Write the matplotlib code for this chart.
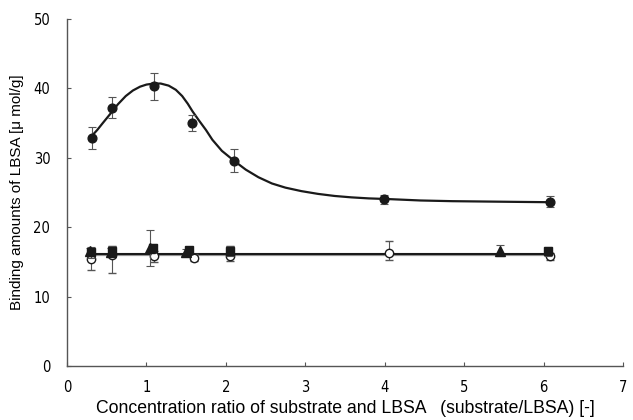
"""
Binding amounts of LBSA vs concentration ratio (substrate/LBSA).
"""

from matplotlib import pyplot as plt
import matplotlib as mpl

mpl.rcParams['font.family'] = ['Liberation Sans', 'DejaVu Sans']

# upper series (filled circles)
x_top = [0.31, 0.57, 1.10, 1.57, 2.10, 3.99, 6.08]
y_top = [32.8, 37.2, 40.3, 35.0, 29.6, 24.0, 23.7]
e_top = [1.6, 1.5, 1.9, 1.2, 1.6, 0.7, 0.8]

# fitted curve through upper series
x_fit = [0.30, 0.38, 0.45, 0.55, 0.64, 0.74, 0.83, 0.92, 1.00, 1.09, 1.18, 1.28,
         1.37, 1.45, 1.52, 1.58, 1.66, 1.75, 1.83, 1.95, 2.10, 2.25, 2.41, 2.58,
         2.75, 2.95, 3.16, 3.37, 3.58, 3.80, 4.05, 4.45, 4.85, 5.25, 5.65, 6.08]
y_fit = [33.0, 34.0, 35.0, 36.4, 37.7, 38.9, 39.7, 40.25, 40.55, 40.7, 40.7, 40.4,
         39.8, 38.9, 37.8, 36.7, 35.4, 34.0, 32.6, 31.0, 29.6, 28.3, 27.2, 26.3,
         25.7, 25.2, 24.8, 24.5, 24.3, 24.15, 24.05, 23.85, 23.75, 23.7, 23.65, 23.6]

# lower series
x_sq = [0.30, 0.57, 1.08, 1.53, 2.05, 6.05]
y_sq = [16.4, 16.5, 17.0, 16.7, 16.6, 16.5]
e_sq = [0.8, 0.8, 0.6, 0.5, 0.7, 0.7]

x_tri = [0.29, 0.55, 1.05, 1.50, 5.45]
y_tri = [16.5, 16.4, 17.0, 16.4, 16.6]
e_tri = [0.5, 0.6, 2.6, 0.5, 0.8]

x_oc = [0.30, 0.57, 1.10, 1.60, 2.05, 4.05, 6.08]
y_oc = [15.4, 16.0, 15.9, 15.6, 15.8, 16.3, 15.8]
e_oc_lo = [1.5, 2.6, 0.9, 0.5, 0.7, 1.0, 0.5]
e_oc_hi = [1.0, 1.3, 0.6, 0.5, 1.5, 1.7, 0.5]

# flat fit lines
x_flat = [0.30, 6.05]
y_flat_a = [16.1, 16.1]
y_flat_b = [15.95, 15.95]


def main():
    fig = plt.figure(figsize=(6.33, 4.20), dpi=100)
    ax = fig.add_axes([67 / 633, 54 / 420, 556 / 633, 347 / 420])

    err_kw = dict(ecolor='#555555', elinewidth=0.8, capsize=2.8, capthick=0.8)

    ax.plot(x_fit, y_fit, color='#1a1a1a', lw=1.6, zorder=3)
    ax.plot(x_flat, y_flat_b, color='#999999', lw=1.6, zorder=2)
    ax.plot(x_flat, y_flat_a, color='#1a1a1a', lw=1.5, zorder=3)

    ax.errorbar(x_oc, y_oc, yerr=[e_oc_lo, e_oc_hi], fmt='o', ms=6, mfc='white',
                mec='#1a1a1a', mew=1.0, zorder=4, **err_kw)
    ax.errorbar(x_tri, y_tri, yerr=e_tri, fmt='^', ms=6.5, color='#1a1a1a',
                zorder=5, **err_kw)
    ax.errorbar(x_sq, y_sq, yerr=e_sq, fmt='s', ms=6, color='#1a1a1a',
                zorder=5, **err_kw)
    ax.errorbar(x_top, y_top, yerr=e_top, fmt='o', ms=6.3, color='#1a1a1a',
                zorder=5, **err_kw)

    ax.set_xlim(0, 7)
    ax.set_ylim(0, 50)
    ax.set_xticks(range(0, 8))
    ax.set_yticks(range(0, 51, 10))

    for side in ['top', 'right']:
        ax.spines[side].set_visible(False)
    for side in ['left', 'bottom']:
        ax.spines[side].set_color('#555555')
        ax.spines[side].set_linewidth(1.0)

    ax.tick_params(direction='in', length=3, color='#555555', labelsize=10.5)
    ax.tick_params(axis='x', pad=10)
    ax.tick_params(axis='y', pad=12)
    for lab in ax.get_xticklabels() + ax.get_yticklabels():
        lab.set_family(['Liberation Sans Narrow', 'DejaVu Sans'])
        lab.set_stretch('condensed')

    ax.set_xlabel('Concentration ratio of substrate and LBSA   (substrate/LBSA) [-]',
                  fontsize=12.7, labelpad=4)
    ax.set_ylabel('Binding amounts of LBSA [\u03bc mol/g]', fontsize=11, labelpad=7)

    fig.savefig('out.png', dpi=100)


main()
